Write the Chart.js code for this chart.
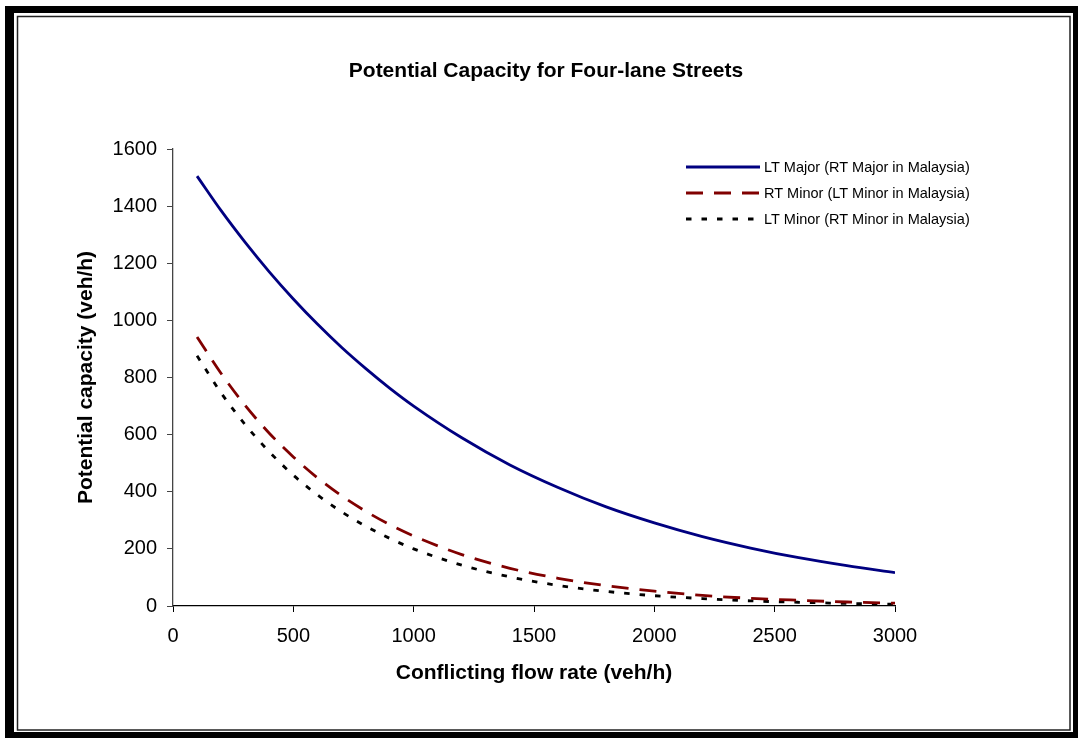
<!DOCTYPE html>
<html>
<head>
<meta charset="utf-8">
<script src="https://cdn.jsdelivr.net/npm/chart.js@4.4.1/dist/chart.umd.min.js"></script>
<style>
  html, body { margin: 0; padding: 0; background: #fff; }
  #wrap { width: 1078px; height: 738px; }
</style>
</head>
<body>
<div id="wrap"><canvas id="chart"></canvas></div>
<script>
// data
const flowRates = [100, 200, 300, 400, 500, 600, 700, 800, 900, 1000, 1200, 1400, 1600, 1800, 2000, 2200, 2400, 2600, 2800, 3000];
const ltMajor = [1505, 1384, 1273, 1170, 1075, 987, 906, 832, 763, 700, 589, 494, 415, 347, 291, 243, 203, 169, 141, 117];
const rtMinor = [942, 814, 702, 605, 522, 449, 386, 332, 285, 245, 180, 132, 97, 71, 52, 37, 27, 20, 14, 10];
const ltMinor = [876, 746, 635, 540, 458, 389, 330, 280, 237, 200, 143, 102, 72, 51, 36, 26, 18, 13, 9, 6];
const seriesNames = ['LT Major (RT Major in Malaysia)', 'RT Minor (LT Minor in Malaysia)', 'LT Minor (RT Minor in Malaysia)'];
const chartTitle = 'Potential Capacity for Four-lane Streets';

const FONT = "'Liberation Sans', Arial, sans-serif";

function pts(ys) {
  return flowRates.map((x, i) => ({ x: x, y: ys[i] }));
}

const styles = [
  { color: '#000080', dash: [] },
  { color: '#800000', dash: [17, 11] },
  { color: '#000000', dash: [5.5, 10] }
];

// outer frame
const framePlugin = {
  id: 'frame',
  beforeDraw(chart) {
    const ctx = chart.ctx;
    ctx.save();
    ctx.fillStyle = '#fff';
    ctx.fillRect(0, 0, 1078, 738);
    ctx.fillStyle = '#000';
    ctx.fillRect(5, 6, 1073, 732);
    ctx.fillStyle = '#fff';
    ctx.fillRect(14, 13, 1059, 719);
    ctx.strokeStyle = '#222';
    ctx.lineWidth = 1.5;
    ctx.strokeRect(17.5, 16.5, 1052.5, 713.5);
    ctx.restore();
  }
};

// title + legend inside the plot
const textPlugin = {
  id: 'texts',
  afterDraw(chart) {
    const ctx = chart.ctx;
    ctx.save();
    ctx.fillStyle = '#000';
    ctx.font = 'bold 21px ' + FONT;
    ctx.textAlign = 'center';
    ctx.textBaseline = 'middle';
    ctx.fillText(chartTitle, 546, 71);

    ctx.font = '14.5px ' + FONT;
    ctx.textAlign = 'left';
    const ys = [167, 193, 219];
    seriesNames.forEach((name, i) => {
      ctx.beginPath();
      ctx.strokeStyle = styles[i].color;
      ctx.lineWidth = 3;
      ctx.setLineDash(styles[i].dash);
      ctx.moveTo(686, ys[i]);
      ctx.lineTo(760, ys[i]);
      ctx.stroke();
      ctx.setLineDash([]);
      ctx.fillStyle = '#000';
      ctx.fillText(name, 764, ys[i] + 1);
    });
    ctx.restore();
  }
};

new Chart(document.getElementById('chart'), {
  type: 'line',
  data: {
    datasets: [ltMajor, rtMinor, ltMinor].map((arr, i) => ({
      label: seriesNames[i],
      data: pts(arr),
      borderColor: styles[i].color,
      borderDash: styles[i].dash,
      borderWidth: 2.8,
      pointRadius: 0,
      fill: false,
      cubicInterpolationMode: 'monotone'
    }))
  },
  options: {
    responsive: true,
    maintainAspectRatio: false,
    animation: false,
    layout: { padding: { left: 0, right: 183, top: 149, bottom: 0 } },
    plugins: {
      legend: { display: false },
      title: { display: false },
      tooltip: { enabled: false }
    },
    scales: {
      x: {
        type: 'linear',
        min: 0,
        max: 3000,
        afterFit(scale) { scale.height = 132; },
        ticks: { stepSize: 500, color: '#000', padding: 12, maxRotation: 0, callback: v => String(v), font: { family: FONT, size: 20 } },
        grid: { drawOnChartArea: false, drawTicks: true, tickLength: 6, color: '#000' },
        border: { display: true, color: '#000', width: 1.3 },
        title: {
          display: true,
          text: 'Conflicting flow rate (veh/h)',
          color: '#000',
          padding: 52,
          font: { family: FONT, size: 21, weight: 'bold' }
        }
      },
      y: {
        min: 0,
        max: 1600,
        afterFit(scale) { scale.width = 173; },
        ticks: { stepSize: 200, color: '#000', padding: 10, callback: v => String(v), font: { family: FONT, size: 20 } },
        grid: { drawOnChartArea: false, drawTicks: true, tickLength: 6, color: '#444' },
        border: { display: true, color: '#444', width: 1.3 },
        title: {
          display: true,
          text: 'Potential capacity (veh/h)',
          color: '#000',
          padding: 74,
          font: { family: FONT, size: 21, weight: 'bold' }
        }
      }
    }
  },
  plugins: [framePlugin, textPlugin]
});
</script>
</body>
</html>
